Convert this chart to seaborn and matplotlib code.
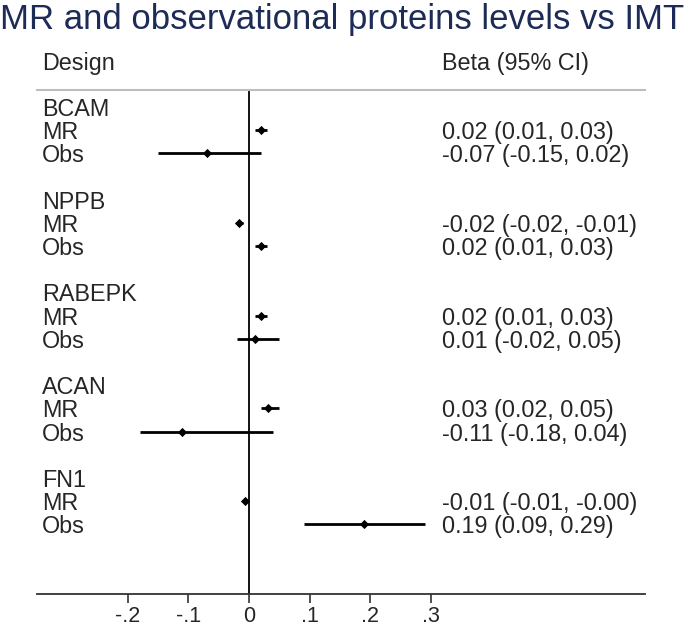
import matplotlib
matplotlib.use('Agg')
import matplotlib.pyplot as plt
import pandas as pd
import seaborn as sns

# Values
groups = ['BCAM', 'NPPB', 'RABEPK', 'ACAN', 'FN1']
designs = ['MR', 'Obs']
mr_beta = [0.02, -0.016, 0.02, 0.031, -0.006]
mr_lo = [0.01, -0.02, 0.01, 0.02, -0.008]
mr_hi = [0.03, -0.01, 0.03, 0.05, -0.003]
obs_beta = [-0.07, 0.02, 0.01, -0.11, 0.19]
obs_lo = [-0.15, 0.01, -0.02, -0.18, 0.09]
obs_hi = [0.02, 0.03, 0.05, 0.04, 0.29]
ticks = [-0.2, -0.1, 0, 0.1, 0.2, 0.3]
tick_labels = ['-.2', '-.1', '0', '.1', '.2', '.3']

rows = []
for i, g in enumerate(groups):
    rows.append(dict(group=g, design='MR', beta=mr_beta[i], lo=mr_lo[i], hi=mr_hi[i], row=4 * i + 2))
    rows.append(dict(group=g, design='Obs', beta=obs_beta[i], lo=obs_lo[i], hi=obs_hi[i], row=4 * i + 3))
df = pd.DataFrame(rows)

sns.set_style('white')
plt.rcParams['font.family'] = ['Liberation Sans', 'DejaVu Sans']

fig = plt.figure(figsize=(6.85, 6.29), dpi=100)
W, H = 685, 629
ax = fig.add_axes([37 / W, 1 - 594 / H, (645 - 37) / W, (594 - 90) / H])

# zero reference line
ax.axvline(0, color='black', lw=1.3, zorder=1)

# confidence intervals and point estimates
ax.hlines(df['row'], df['lo'], df['hi'], color='black', lw=2, zorder=2)
sns.scatterplot(data=df, x='beta', y='row', marker='D', color='black', s=22,
                edgecolor='black', linewidth=0, ax=ax, zorder=3, legend=False)

ax.set_xlim((37 - 249) / 607, (645 - 249) / 607)
ax.set_ylim(22, 0.27)

for sp in ['left', 'right']:
    ax.spines[sp].set_visible(False)
ax.spines['top'].set_color('#bdbdbd')
ax.spines['top'].set_linewidth(1.5)
ax.spines['bottom'].set_color('#333333')
ax.spines['bottom'].set_linewidth(1.3)

ax.set_xticks(ticks)
ax.set_xticklabels(tick_labels, fontsize=15.5)
ax.tick_params(axis='x', direction='out', length=6.5, width=1.2, color='#333333', pad=2.5, bottom=True)
ax.set_yticks([])
ax.set_xlabel('')
ax.set_ylabel('')

lab_x = 5 / (645 - 37)
beta_x = (442 - 37) / (645 - 37)
tr = ax.get_yaxis_transform()
fs = 16.8

ax.text(lab_x, -1, 'Design', transform=tr, fontsize=fs, va='center_baseline', clip_on=False)
ax.text(beta_x, -1, 'Beta (95% CI)', transform=tr, fontsize=fs, va='center_baseline', clip_on=False)

for i, g in enumerate(groups):
    ax.text(lab_x, 4 * i + 1, g, transform=tr, fontsize=fs, va='center_baseline')
for _, r in df.iterrows():
    ax.text(lab_x, r['row'], r['design'], transform=tr, fontsize=fs, va='center_baseline')
    ax.text(beta_x, r['row'], f"{r['beta']:.2f} ({r['lo']:.2f}, {r['hi']:.2f})",
            transform=tr, fontsize=fs, va='center_baseline')

fig.text(0.0, 1 - 20 / H, 'MR and observational proteins levels vs IMT', fontsize=25,
         color='#1d2b57', va='center', ha='left')

fig.savefig('out.png', dpi=100)
